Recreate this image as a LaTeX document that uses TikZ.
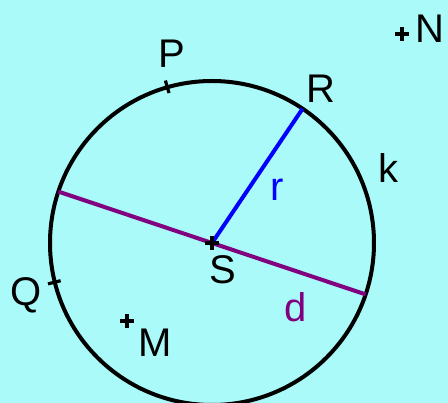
\documentclass[tikz,border=0pt]{standalone}
\usepackage{fontspec}
\setmainfont{Liberation Sans}
\usetikzlibrary{calc}
\definecolor{bgcyan}{RGB}{170,250,250}
\definecolor{dpurple}{RGB}{128,0,128}
\definecolor{rblue}{RGB}{0,0,255}
\begin{document}
\begin{tikzpicture}[x=1pt,y=-1pt,
  lbl/.style={font=\fontsize{40}{42}\selectfont, inner sep=0pt, anchor=base},
  tickmark/.style={line width=3.2pt},
  crossmark/.style={line width=3.5pt}]
\fill[bgcyan] (0,0) rectangle (448,403);
\useasboundingbox (0,0) rectangle (448,403);
\coordinate (S) at (212,243);
\coordinate (M) at (127,321);
\coordinate (N) at (402,34);
% circle k
\draw[line width=4pt] (S) circle (162pt);
% diameter d
\coordinate (D1) at ($(S)+(161.5:162pt)$);
\coordinate (D2) at ($(S)+(-18.5:162pt)$);
\draw[dpurple, line width=4pt] (D1) -- (D2);
% radius r
\coordinate (R) at ($(S)+(56:162pt)$);
\draw[rblue, line width=4pt] (S) -- (R);
% ticks P and Q
\coordinate (P1) at ($(S)+(106:156pt)$);
\coordinate (P2) at ($(S)+(106:169pt)$);
\draw[tickmark] (P1) -- (P2);
\coordinate (Q1) at ($(S)+(194:156pt)$);
\coordinate (Q2) at ($(S)+(194:169pt)$);
\draw[tickmark] (Q1) -- (Q2);
% point crosses
\foreach \p in {S,M,N}{
  \draw[crossmark] ($(\p)+(-7pt,0)$) -- ($(\p)+(7pt,0)$);
  \draw[crossmark] ($(\p)+(0,-7pt)$) -- ($(\p)+(0,7pt)$);
}
% labels
\node[lbl] (lP) at (171.5,68) {P};
\node[lbl] (lR) at (321,103) {R};
\node[lbl] (lk) at (388.5,183) {k};
\node[lbl, text=rblue] (lr) at (277.5,201) {r};
\node[lbl] (lS) at (222.5,284) {S};
\node[lbl, text=dpurple] (ld) at (296,322) {d};
\node[lbl] (lQ) at (26.5,306) {Q};
\node[lbl] (lM) at (155,357) {M};
\node[lbl] (lN) at (430,43) {N};
\end{tikzpicture}
\end{document}
